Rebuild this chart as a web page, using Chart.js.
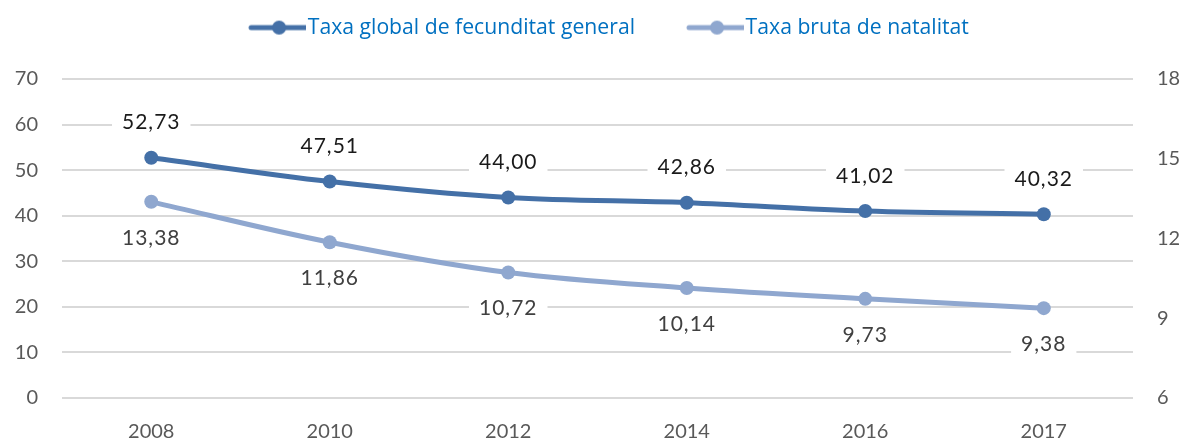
<!DOCTYPE html>
<html>
<head>
<meta charset="utf-8">
<script src="https://cdn.jsdelivr.net/npm/chart.js@4"></script>
<style>
  html, body { margin: 0; padding: 0; background: #fff; }
  #wrap { width: 1183px; height: 439px; }
</style>
</head>
<body>
<div id="wrap"><canvas id="myChart"></canvas></div>
<script>
// data
const years = ['2008', '2010', '2012', '2014', '2016', '2017'];
const fecundity = [52.73, 47.51, 44.00, 42.86, 41.02, 40.32];
const birthRate = [13.38, 11.86, 10.72, 10.14, 9.73, 9.38];
const leftTicks = [0, 10, 20, 30, 40, 50, 60, 70];
const rightTicks = [6, 9, 12, 15, 18];

const darkBlue = '#4470A7';
const lightBlue = '#8FA7CF';
const fontName = "Lato, 'Open Sans', sans-serif";
const legendFont = "'Open Sans', 'Noto Sans', sans-serif";

// legend marker: a short line with a dot, drawn wider than the box
// so there is a gap before it and almost none before the text
function legendMarker(color) {
    const c = document.createElement('canvas');
    c.width = 101;
    c.height = 16;
    const g = c.getContext('2d');
    g.strokeStyle = color;
    g.lineWidth = 5;
    g.lineCap = 'round';
    g.beginPath();
    g.moveTo(46, 8);
    g.lineTo(101, 8);
    g.stroke();
    g.fillStyle = color;
    g.beginPath();
    g.arc(74, 8, 7, 0, Math.PI * 2);
    g.fill();
    return c;
}

// value labels with white boxes behind them
const valueLabels = {
    id: 'valueLabels',
    afterDatasetsDraw(chart) {
        const ctx = chart.ctx;
        ctx.save();
        ctx.font = '21px ' + fontName;
        ctx.letterSpacing = '1px';
        ctx.textAlign = 'center';
        ctx.textBaseline = 'middle';
        chart.data.datasets.forEach((ds, i) => {
            const meta = chart.getDatasetMeta(i);
            const shift = i === 0 ? -35 : 36;
            meta.data.forEach((pt, j) => {
                const txt = ds.data[j].toFixed(2).replace('.', ',');
                const w = ctx.measureText(txt).width;
                const y = pt.y + shift;
                ctx.fillStyle = '#fff';
                ctx.fillRect(pt.x - w / 2 - 10, y - 12, w + 20, 24);
                ctx.fillStyle = i === 0 ? '#1a1a1a' : '#404040';
                ctx.fillText(txt, pt.x, y);
            });
        });
        ctx.restore();
    }
};

// make the legend box tall enough to push the plot down
const legendHeight = {
    id: 'legendHeight',
    beforeInit(chart) {
        const fit = chart.legend.fit;
        chart.legend.fit = function () {
            fit.call(this);
            this.height = 79;
        };
    }
};

const ctx = document.getElementById('myChart').getContext('2d');

const myChart = new Chart(ctx, {
    type: 'line',
    data: {
        labels: years,
        datasets: [{
            label: 'Taxa global de fecunditat general',
            data: fecundity,
            yAxisID: 'y',
            borderColor: darkBlue,
            backgroundColor: darkBlue,
            borderWidth: 5,
            pointRadius: 7,
            pointBorderWidth: 0,
            tension: 0.35
        }, {
            label: 'Taxa bruta de natalitat',
            data: birthRate,
            yAxisID: 'y1',
            borderColor: lightBlue,
            backgroundColor: lightBlue,
            borderWidth: 5,
            pointRadius: 7,
            pointBorderWidth: 0,
            tension: 0.35
        }]
    },
    options: {
        responsive: true,
        maintainAspectRatio: false,
        animation: false,
        layout: { padding: 0 },
        plugins: {
            tooltip: { enabled: false },
            legend: {
                position: 'top',
                labels: {
                    usePointStyle: true,
                    pointStyleWidth: 83,
                    padding: 17,
                    color: '#0070C0',
                    font: { family: legendFont, size: 21.2 },
                    generateLabels(chart) {
                        return chart.data.datasets.map((ds, i) => ({
                            text: ds.label,
                            pointStyle: legendMarker(ds.borderColor),
                            fontColor: '#0070C0',
                            datasetIndex: i,
                            hidden: false,
                            lineWidth: 0
                        }));
                    }
                }
            }
        },
        scales: {
            x: {
                offset: true,
                grid: { display: false },
                border: { display: false },
                afterFit(axis) { axis.height = 41; },
                ticks: { color: '#595959', font: { family: fontName, size: 20 }, padding: 14 }
            },
            y: {
                position: 'left',
                min: 0,
                max: 70,
                afterBuildTicks(axis) { axis.ticks = leftTicks.map(v => ({ value: v })); },
                afterFit(axis) { axis.width = 62; },
                grid: { color: '#d9d9d9', lineWidth: 2, drawTicks: false },
                border: { display: false },
                ticks: { color: '#595959', font: { family: fontName, size: 20 }, padding: 24 }
            },
            y1: {
                position: 'right',
                min: 6,
                max: 18,
                afterBuildTicks(axis) { axis.ticks = rightTicks.map(v => ({ value: v })); },
                afterFit(axis) { axis.width = 50; },
                grid: { display: false, drawTicks: false },
                border: { display: false },
                ticks: { color: '#595959', font: { family: fontName, size: 20 }, padding: 24 }
            }
        }
    },
    plugins: [valueLabels, legendHeight]
});
</script>
</body>
</html>
